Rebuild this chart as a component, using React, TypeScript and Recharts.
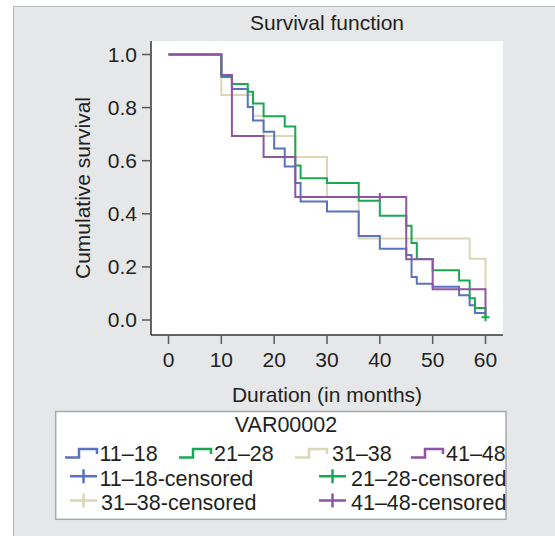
import { ComposedChart, Line, Scatter, XAxis, YAxis, CartesianGrid } from 'recharts'

const FONT = '"Liberation Sans", Arial, Helvetica, sans-serif'
const TEXT = '#231f20'

const chartTitle = 'Survival function'
const xLabel = 'Duration (in months)'
const yLabel = 'Cumulative survival'
const legendTitle = 'VAR00002'

const xTicks = [0, 10, 20, 30, 40, 50, 60]
const yTicks = [0, 0.2, 0.4, 0.6, 0.8, 1]

const groups = ['11–18', '21–28', '31–38', '41–48']
const colors = ['#5a73c0', '#1aa852', '#d9d7b6', '#8f55a2']

// Kaplan-Meier steps
const times1118 = [0, 10, 12, 15, 16, 18, 20, 22, 24, 25, 30, 36, 40, 45, 46, 47, 50, 55, 57, 58, 60]
const surv1118 = [1, 0.915, 0.87, 0.802, 0.751, 0.709, 0.646, 0.578, 0.516, 0.446, 0.409, 0.316, 0.268, 0.245, 0.162, 0.137, 0.125, 0.093, 0.056, 0.026, 0.026]

const times2128 = [0, 10, 12, 15, 16, 18, 22, 24, 25, 30, 36, 40, 45, 46, 47, 50, 55, 57, 58, 60]
const surv2128 = [1, 0.922, 0.889, 0.86, 0.815, 0.767, 0.729, 0.582, 0.534, 0.516, 0.449, 0.393, 0.355, 0.29, 0.23, 0.187, 0.149, 0.082, 0.045, 0.01]

const times3138 = [0, 10, 16, 18, 24, 30, 36, 57, 60]
const surv3138 = [1, 0.847, 0.769, 0.693, 0.614, 0.463, 0.307, 0.231, 0.116]

const times4148 = [0, 10, 12, 18, 24, 45, 50, 60]
const surv4148 = [1, 0.923, 0.693, 0.614, 0.463, 0.229, 0.116, 0.019]

// censored observations
const censorTimes2128 = [60]
const censorSurv2128 = [0.01]
const censorTimes4148 = [40]
const censorSurv4148 = [0.463]

const zip = (ts: number[], ss: number[]) => ts.map((t, i) => ({ t, s: ss[i] }))

const curves = [
  zip(times1118, surv1118),
  zip(times2128, surv2128),
  zip(times3138, surv3138),
  zip(times4148, surv4148),
]
const censored = [
  [] as { t: number; s: number }[],
  zip(censorTimes2128, censorSurv2128),
  [] as { t: number; s: number }[],
  zip(censorTimes4148, censorSurv4148),
]

// draw order: beige underneath, purple on top
const drawOrder = [2, 0, 1, 3]

const Plus = (props: any) => {
  const { cx, cy, fill } = props
  return <path d={`M${cx - 4},${cy}H${cx + 4}M${cx},${cy - 4}V${cy + 4}`} stroke={fill} strokeWidth={2} fill="none" />
}

function StepIcon({ x, y, color }: { x: number; y: number; color: string }) {
  return (
    <path
      d={`M${x},${y + 10.5}H${x + 14}V${y + 2}H${x + 32}V${y + 7}`}
      stroke={color}
      strokeWidth={2.5}
      fill="none"
    />
  )
}

function PlusIcon({ x, y, color }: { x: number; y: number; color: string }) {
  return (
    <path d={`M${x},${y}H${x + 27}M${x + 13.5},${y - 7}V${y + 7}`} stroke={color} strokeWidth={2.5} fill="none" />
  )
}

function LegendBox() {
  const row1 = [
    { icon: 65, text: 99.5 },
    { icon: 179, text: 214 },
    { icon: 295, text: 332 },
    { icon: 411, text: 446 },
  ]
  const censorSlots = [
    { icon: 70, text: 99.5, base: 485.7 },
    { icon: 319, text: 351, base: 485.7 },
    { icon: 70, text: 101, base: 510 },
    { icon: 319, text: 351, base: 510 },
  ]
  return (
    <svg width={555} height={536} style={{ position: 'absolute', left: 0, top: 0, pointerEvents: 'none' }}>
      <text x={327} y={30} textAnchor="middle" fontSize={21} fill={TEXT}>
        {chartTitle}
      </text>
      <rect x={55.7} y={411.5} width={450.3} height={107.8} fill="#fff" stroke="#a7a9ac" strokeWidth={1.5} />
      <text x={286} y={431.7} textAnchor="middle" fontSize={21.5} fill={TEXT}>
        {legendTitle}
      </text>
      {groups.map((g, i) => (
        <g key={g}>
          <StepIcon x={row1[i].icon} y={447} color={colors[i]} />
          <text x={row1[i].text} y={461} fontSize={21.5} fill={TEXT}>
            {g}
          </text>
        </g>
      ))}
      {groups.map((g, i) => (
        <g key={g + '-c'}>
          <PlusIcon x={censorSlots[i].icon} y={censorSlots[i].base - 9.5} color={colors[i]} />
          <text x={censorSlots[i].text} y={censorSlots[i].base} fontSize={21.5} fill={TEXT}>
            {g}-censored
          </text>
        </g>
      ))}
    </svg>
  )
}

export default function App() {
  return (
    <div
      style={{
        position: 'absolute',
        left: 0,
        top: 0,
        width: 555,
        height: 536,
        overflow: 'hidden',
        fontFamily: FONT,
        background: '#fff',
      }}
    >
      <div
        style={{
          position: 'absolute',
          left: 13,
          top: 6,
          width: 600,
          height: 600,
          background: '#e6e7e8',
          border: '1.5px solid #b7b8ba',
        }}
      />
      <div style={{ position: 'absolute', left: 0, top: 0 }}>
        <ComposedChart width={555} height={536} margin={{ top: 41, right: 52, bottom: 131, left: 81 }}>
          <CartesianGrid fill="#fff" horizontal={false} vertical={false} />
          <XAxis
            dataKey="t"
            type="number"
            domain={[0, 60]}
            ticks={xTicks}
            padding={{ left: 17.5, right: 17.5 }}
            height={70}
            tickSize={9}
            tickMargin={8}
            tick={{ fill: TEXT, fontSize: 21 }}
            tickLine={{ stroke: '#58595b', strokeWidth: 1.5 }}
            axisLine={{ stroke: '#333', strokeWidth: 1.5 }}
            label={{ value: xLabel, position: 'insideBottom', offset: 3, fill: TEXT, fontSize: 21 }}
          />
          <XAxis
            xAxisId="top"
            orientation="top"
            type="number"
            domain={[0, 60]}
            height={0}
            tick={false}
            tickLine={false}
            axisLine={{ stroke: '#333', strokeWidth: 1.5 }}
          />
          <YAxis
            dataKey="s"
            type="number"
            domain={[0, 1]}
            ticks={yTicks}
            padding={{ top: 13.5, bottom: 15 }}
            width={70}
            tickSize={9}
            tickMargin={5}
            tickFormatter={(v: number) => v.toFixed(1)}
            tick={{ fill: TEXT, fontSize: 21 }}
            tickLine={{ stroke: '#58595b', strokeWidth: 1.5 }}
            axisLine={{ stroke: '#333', strokeWidth: 1.5 }}
            label={{
              value: yLabel,
              angle: -90,
              position: 'insideLeft',
              offset: 2,
              fill: TEXT,
              fontSize: 21,
              style: { textAnchor: 'middle' },
            }}
          />
          <YAxis
            yAxisId="right"
            orientation="right"
            type="number"
            domain={[0, 1]}
            width={0}
            tick={false}
            tickLine={false}
            axisLine={{ stroke: '#333', strokeWidth: 1.5 }}
          />
          {drawOrder.map((i) => (
            <Line
              key={groups[i]}
              data={curves[i]}
              dataKey="s"
              name={groups[i]}
              type="stepAfter"
              stroke={colors[i]}
              strokeWidth={2}
              dot={false}
              activeDot={false}
              isAnimationActive={false}
            />
          ))}
          {drawOrder
            .filter((i) => censored[i].length > 0)
            .map((i) => (
              <Scatter
                key={groups[i] + '-censored'}
                data={censored[i]}
                dataKey="s"
                name={groups[i] + '-censored'}
                fill={colors[i]}
                shape={Plus}
                isAnimationActive={false}
              />
            ))}
        </ComposedChart>
      </div>
      <LegendBox />
    </div>
  )
}
